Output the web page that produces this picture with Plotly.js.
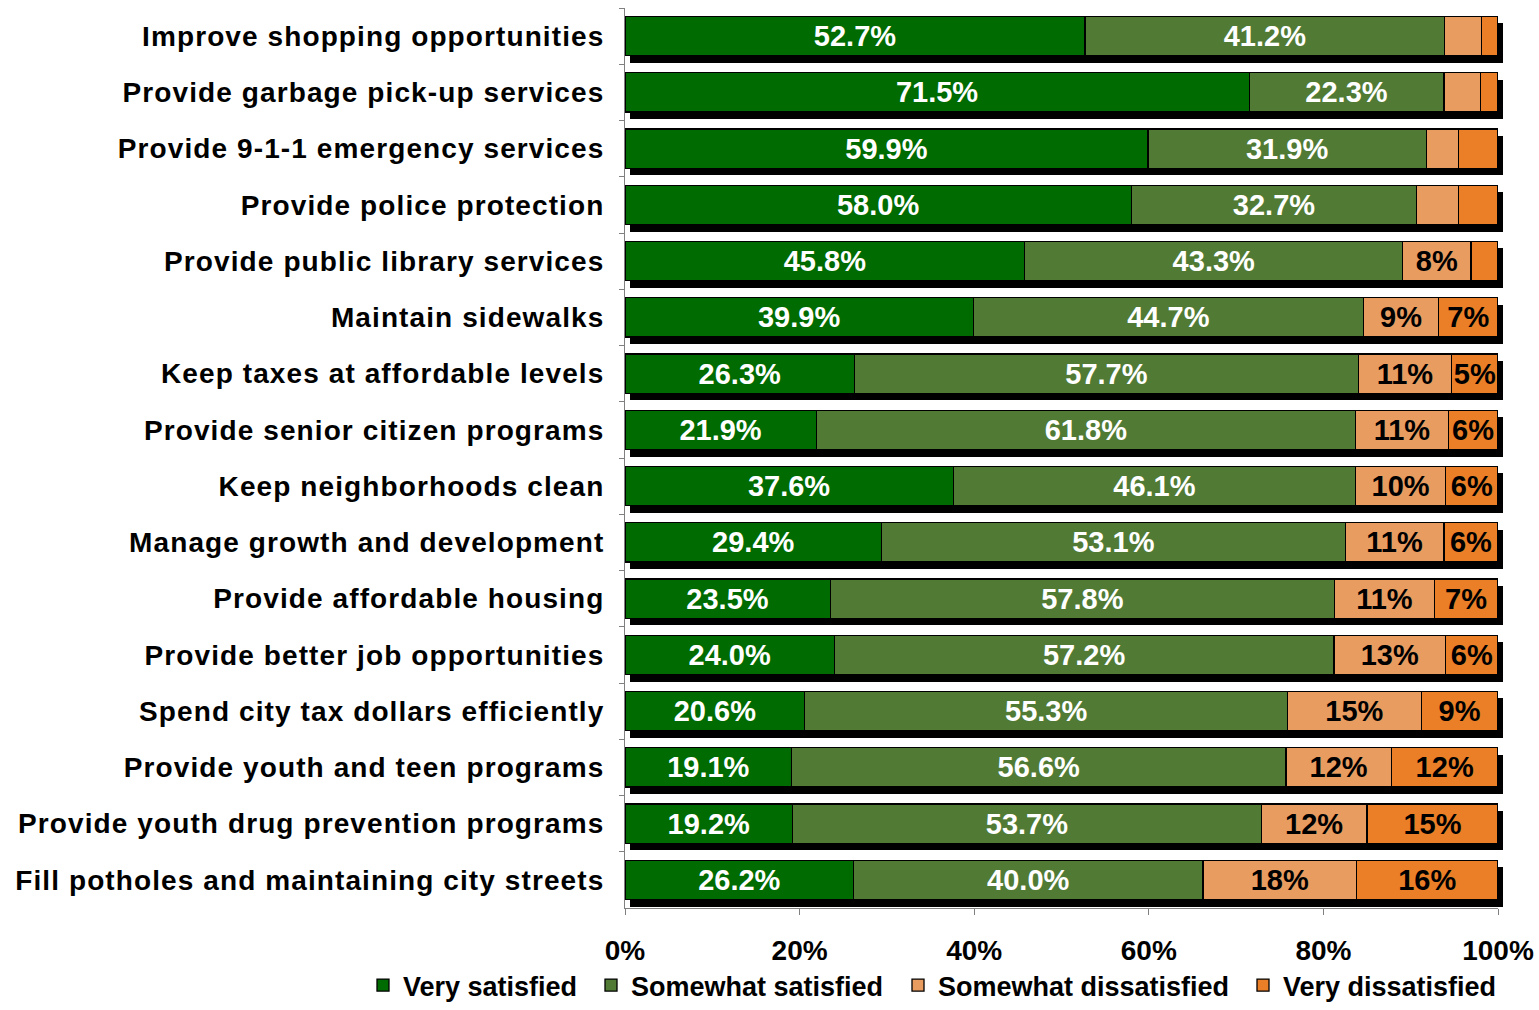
<!DOCTYPE html>
<html>
<head>
<meta charset="utf-8">
<script src="https://cdn.plot.ly/plotly-3.0.1.min.js"></script>
<style>
  html, body { margin: 0; padding: 0; background: #ffffff; }
  #chart { width: 1539px; height: 1010px; }
  g.y2tick text { letter-spacing: 1.1px; }
</style>
</head>
<body>
<div id="chart"></div>
<script>
const categories = [
  "Improve shopping opportunities",
  "Provide garbage pick-up services",
  "Provide 9-1-1 emergency services",
  "Provide police protection",
  "Provide public library services",
  "Maintain sidewalks",
  "Keep taxes at affordable levels",
  "Provide senior citizen programs",
  "Keep neighborhoods clean",
  "Manage growth and development",
  "Provide affordable housing",
  "Provide better job opportunities",
  "Spend city tax dollars efficiently",
  "Provide youth and teen programs",
  "Provide youth drug prevention programs",
  "Fill potholes and maintaining city streets"
];
const verySatisfied        = [52.7, 71.5, 59.9, 58.0, 45.8, 39.9, 26.3, 21.9, 37.6, 29.4, 23.5, 24.0, 20.6, 19.1, 19.2, 26.2];
const somewhatSatisfied    = [41.2, 22.3, 31.9, 32.7, 43.3, 44.7, 57.7, 61.8, 46.1, 53.1, 57.8, 57.2, 55.3, 56.6, 53.7, 40.0];
const somewhatDissatisfied = [4.2, 4.2, 3.7, 4.8, 7.8, 8.6, 10.7, 10.6, 10.3, 11.3, 11.4, 12.8, 15.3, 12.1, 12.1, 17.6];
const veryDissatisfied     = [1.9, 2.0, 4.5, 4.5, 3.1, 6.8, 5.3, 5.7, 6.0, 6.2, 7.3, 6.0, 8.8, 12.2, 15.0, 16.2];
const seriesNames = ["Very satisfied", "Somewhat satisfied", "Somewhat dissatisfied", "Very dissatisfied"];
const xTickValues = [0, 20, 40, 60, 80, 100];

const colors = ["#006b00", "#517b35", "#e99c60", "#ea7f27"];
const textColors = ["#ffffff", "#ffffff", "#000000", "#000000"];
const allSeries = [verySatisfied, somewhatSatisfied, somewhatDissatisfied, veryDissatisfied];

const totals = categories.map((c, i) => allSeries.reduce((s, arr) => s + arr[i], 0));

const W = 1539, H = 1010;
const shX = 5, shY = 7;
const L = 625, R = 41 - shX, T = 8, B = 102 - shY;
const pw = W - L - R, ph = H - T - B;
const barWidth = 0.70;

const legendIds = ["legend", "legend2", "legend3", "legend4"];
const legendTextStart = [405, 633, 940, 1285];

const traces = [];
traces.push({
  type: "bar", orientation: "h", y: categories, x: totals,
  xaxis: "x", yaxis: "y", width: barWidth,
  marker: { color: "#000000", line: { width: 0 } },
  showlegend: false, hoverinfo: "skip"
});

allSeries.forEach((vals, k) => {
  const labels = vals.map(v => {
    if (k < 2) return v.toFixed(1) + "%";
    return v >= 5 ? Math.round(v) + "%" : "";
  });
  traces.push({
    type: "bar", orientation: "h", name: seriesNames[k],
    legend: legendIds[k],
    y: categories, x: vals, xaxis: "x2", yaxis: "y2",
    width: barWidth,
    text: labels, textposition: "inside", insidetextanchor: "middle",
    constraintext: "none",
    textfont: { family: "Liberation Sans, Arial, sans-serif", size: 29, color: textColors[k], weight: "bold" },
    marker: { color: colors[k], line: { color: "#000000", width: 1.3 } },
    hoverinfo: "skip"
  });
});

const layout = {
  width: W, height: H,
  margin: { l: L, r: R, t: T, b: B, pad: 0 },
  paper_bgcolor: "#ffffff", plot_bgcolor: "rgba(0,0,0,0)",
  barmode: "stack",
  showlegend: true,
  font: { family: "Liberation Sans, Arial, sans-serif", color: "#000000" },
  xaxis: { domain: [shX / pw, 1], range: [0, 100], visible: false, fixedrange: true },
  yaxis: { domain: [0, 1 - shY / ph], type: "category", autorange: "reversed", visible: false, fixedrange: true },
  xaxis2: {
    domain: [0, 1 - shX / pw], range: [0, 100], anchor: "y2",
    tickvals: xTickValues, ticktext: xTickValues.map(v => v + "%"),
    ticks: "outside", ticklen: 6, tickcolor: "#808080", tickwidth: 1,
    showline: true, linecolor: "#808080", linewidth: 1,
    showgrid: false, zeroline: false,
    ticklabelstandoff: 11,
    tickfont: { size: 28, weight: "bold", color: "#000000" },
    fixedrange: true
  },
  yaxis2: {
    domain: [shY / ph, 1], type: "category", autorange: "reversed", anchor: "x2",
    ticks: "outside", ticklen: 5, tickcolor: "#808080", tickson: "boundaries",
    showline: true, linecolor: "#808080", linewidth: 1,
    showgrid: false, zeroline: false,
    ticklabelstandoff: 14,
    tickfont: { size: 28, weight: "bold", color: "#000000" },
    fixedrange: true
  }
};

legendIds.forEach((id, k) => {
  layout[id] = {
    orientation: "h", xref: "container", yref: "container",
    x: (legendTextStart[k] - 42) / W, xanchor: "left",
    y: 0, yanchor: "bottom",
    font: { size: 27, weight: "bold", color: "#000000" },
    itemwidth: 30, bgcolor: "rgba(0,0,0,0)", borderwidth: 0
  };
});

Plotly.newPlot("chart", traces, layout, { displayModeBar: false, staticPlot: true });
</script>
</body>
</html>
